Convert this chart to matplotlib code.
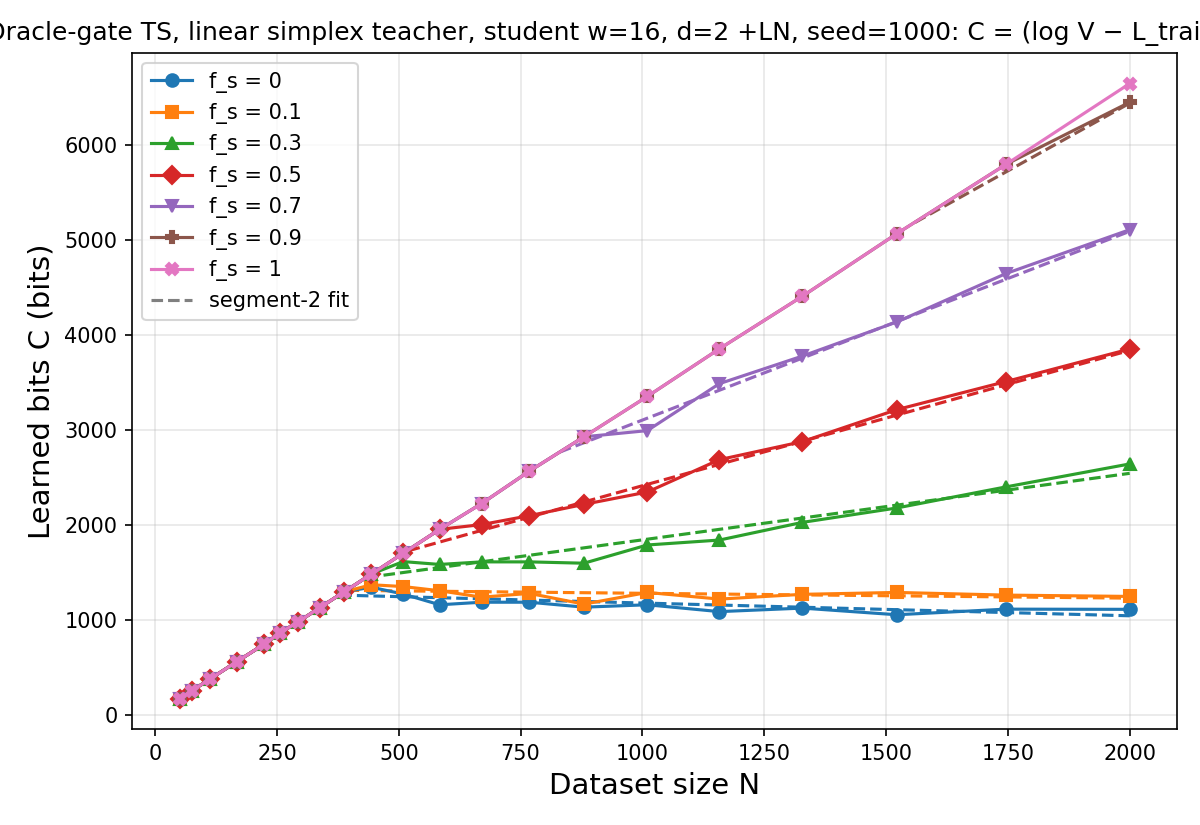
import matplotlib
matplotlib.use("Agg")
import matplotlib.pyplot as plt
from matplotlib.lines import Line2D

N = [50, 75, 112, 168, 224, 257, 294, 338, 388, 444, 509, 584, 670, 768, 880,
     1010, 1158, 1328, 1522, 1746, 2000]

# shared early part (segment 1), identical for all series up to their breakpoint
base = [172, 253, 376, 562, 746, 866, 982, 1130, 1297, 1484, 1703, 1955, 2227,
        2568, 2930, 3355, 3857, 4410, 5070, 5800]

C_fs0 = base[:9] + [1345, 1273, 1160, 1187, 1187, 1135, 1160, 1088, 1125, 1055, 1114, 1112]
C_fs01 = base[:9] + [1371, 1352, 1308, 1240, 1280, 1167, 1290, 1220, 1270, 1290, 1262, 1248]
C_fs03 = base[:10] + [1615, 1585, 1612, 1612, 1598, 1790, 1842, 2028, 2180, 2402, 2644]
C_fs05 = base[:12] + [2005, 2099, 2218, 2348, 2689, 2879, 3216, 3512, 3855]
C_fs07 = base[:15] + [2995, 3490, 3780, 4140, 4650, 5112]
C_fs09 = base[:20] + [6455]
C_fs1 = base[:20] + [6652]

labels = ["f_s = 0", "f_s = 0.1", "f_s = 0.3", "f_s = 0.5", "f_s = 0.7", "f_s = 0.9", "f_s = 1"]
series = [C_fs0, C_fs01, C_fs03, C_fs05, C_fs07, C_fs09, C_fs1]
markers = ["o", "s", "^", "D", "v", "P", "X"]
colors = ["#1f77b4", "#ff7f0e", "#2ca02c", "#d62728", "#9467bd", "#8c564b", "#e377c2"]

# segment-2 fit lines: (N_start, N_end), (C_start, C_end)
fit_N = [(380, 2000), (395, 2000), (435, 2000), (520, 2000), (831, 2000), (1560, 2000)]
fit_C = [(1262, 1044), (1312, 1230), (1448, 2545), (1730, 3840), (2770, 5095), (5190, 6445)]

title = ("Oracle-gate TS, linear simplex teacher, student w=16, d=2 +LN, seed=1000: "
         "C = (log V \u2212 L_train)\u00b7N / ln 2")

fig = plt.figure(figsize=(8, 5.5), dpi=150)
ax = fig.add_axes([0.110, 0.116, 0.871, 0.820])

for i, (ys, lab, m, c) in enumerate(zip(series, labels, markers, colors)):
    ax.plot(N, ys, marker=m, color=c, label=lab, lw=1.5, ms=6, zorder=3 + i * 0.1)
    if i < len(fit_N):
        ax.plot(fit_N[i], fit_C[i], "--", color=c, lw=1.5, zorder=2.5 + i * 0.1)

ax.set_xlabel("Dataset size N", fontsize=14)
ax.set_ylabel("Learned bits C (bits)", fontsize=14)
ax.set_title(title, fontsize=12)
ax.grid(True, alpha=0.3)
ax.set_xticks([0, 250, 500, 750, 1000, 1250, 1500, 1750, 2000])
ax.set_yticks([0, 1000, 2000, 3000, 4000, 5000, 6000])

handles, labs = ax.get_legend_handles_labels()
handles.append(Line2D([0], [0], color="gray", ls="--", lw=1.5))
labs.append("segment-2 fit")
ax.legend(handles, labs, loc="upper left", fontsize=10)

fig.savefig("out.png", dpi=150)
